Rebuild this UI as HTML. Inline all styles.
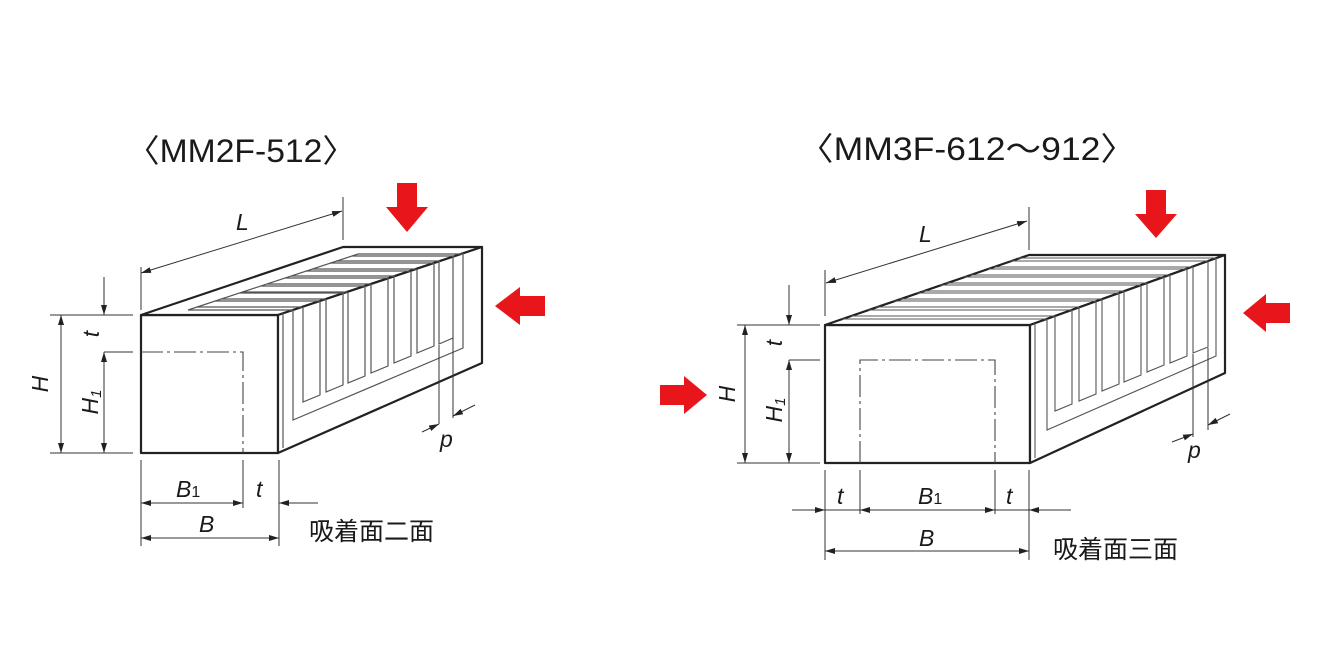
<!DOCTYPE html>
<html><head><meta charset="utf-8"><style>
html,body{margin:0;padding:0;background:#fff}
svg{display:block}
text{font-family:"Liberation Sans","Noto Sans CJK JP",sans-serif;fill:#1a1a1a}
.i{font-style:italic;font-size:23px}
</style></head><body>
<svg width="1320" height="660" viewBox="0 0 1320 660" xmlns="http://www.w3.org/2000/svg">
<defs>
<marker id="a" viewBox="0 0 10 6" refX="10" refY="3" markerWidth="10" markerHeight="6" orient="auto-start-reverse" markerUnits="userSpaceOnUse"><path d="M0,0 L10,3 L0,6 z" fill="#222"/></marker>
</defs>

<text x="126" y="162" font-size="32" textLength="230" lengthAdjust="spacingAndGlyphs">〈MM2F-512〉</text>
<text x="798" y="160" font-size="32" textLength="338" lengthAdjust="spacingAndGlyphs">〈MM3F-612～912〉</text>

<!-- LEFT BLOCK -->
<g fill="none" stroke="#222" stroke-width="2.2" stroke-linejoin="round">
  <polygon points="141,315 278,315 278,453 141,453" fill="#fff"/>
  <polygon points="141,315 343,247 482,247 278,315" fill="#fff"/>
  <polygon points="278,315 482,247 482,363 278,453" fill="#fff"/>
</g>
<g fill="none" stroke="#555" stroke-width="1.2">
  <polyline points="293,310 188,310 358,254 463,254"/>
  <polyline points="293,310 293,420 463,348 463,253"/>
  <line x1="197" y1="307" x2="302" y2="307"/><line x1="215" y1="301" x2="320" y2="301"/>
  <line x1="221" y1="299" x2="326" y2="299"/><line x1="240" y1="293" x2="344" y2="293"/>
  <line x1="243" y1="292" x2="347" y2="292"/><line x1="261" y1="286" x2="365" y2="286"/>
  <line x1="267" y1="284" x2="371" y2="284"/><line x1="285" y1="278" x2="389" y2="278"/>
  <line x1="291" y1="276" x2="395" y2="276"/><line x1="306" y1="271" x2="410" y2="271"/>
  <line x1="312" y1="269" x2="416" y2="269"/><line x1="330" y1="263" x2="434" y2="263"/>
  <line x1="336" y1="261" x2="440" y2="261"/><line x1="352" y1="256" x2="455" y2="256"/>
  <polyline points="303,307 303,402 320,395 320,301"/>
  <polyline points="326,299 326,392 343,385 343,293"/>
  <polyline points="348,292 348,383 365,376 365,286"/>
  <polyline points="371,284 371,373 388,366 388,278"/>
  <polyline points="394,276 394,363 411,356 411,271"/>
  <polyline points="417,269 417,353 434,346 434,263"/>
  <polyline points="439,261 439,344 453,338 453,256"/>
  <line x1="283" y1="313" x2="283" y2="448"/>
</g>
<polyline points="141,352 243,352 243,453" fill="none" stroke="#444" stroke-width="1.1" stroke-dasharray="22,4,3,4"/>
<g stroke="#333" stroke-width="1" fill="none">
  <line x1="141" y1="267" x2="141" y2="310"/><line x1="343" y1="197" x2="343" y2="240"/>
  <line x1="141" y1="273" x2="342" y2="211" marker-start="url(#a)" marker-end="url(#a)"/>
  <line x1="50" y1="315" x2="133" y2="315"/><line x1="50" y1="453" x2="133" y2="453"/>
  <line x1="61" y1="315" x2="61" y2="453" marker-start="url(#a)" marker-end="url(#a)"/>
  <line x1="104" y1="277" x2="104" y2="315" marker-end="url(#a)"/>
  <line x1="104" y1="352" x2="133" y2="352"/>
  <line x1="104" y1="352" x2="104" y2="453" marker-start="url(#a)" marker-end="url(#a)"/>
  <line x1="141" y1="460" x2="141" y2="546"/><line x1="243" y1="460" x2="243" y2="508"/><line x1="279" y1="460" x2="279" y2="546"/>
  <line x1="141" y1="503" x2="243" y2="503" marker-start="url(#a)" marker-end="url(#a)"/>
  <line x1="318" y1="503" x2="279" y2="503" marker-end="url(#a)"/>
  <line x1="141" y1="538" x2="279" y2="538" marker-start="url(#a)" marker-end="url(#a)"/>
  <line x1="439" y1="345" x2="439" y2="424"/><line x1="453" y1="338" x2="453" y2="418"/>
  <line x1="422" y1="432" x2="439" y2="424" marker-end="url(#a)"/>
  <line x1="475" y1="405" x2="453" y2="416" marker-end="url(#a)"/>
</g>
<text class="i" x="236" y="230">L</text>
<text class="i" transform="translate(48,384) rotate(-90)" text-anchor="middle">H</text>
<text class="i" transform="translate(99,334) rotate(-90)" text-anchor="middle">t</text>
<text class="i" transform="translate(98,402) rotate(-90)" text-anchor="middle">H<tspan font-size="15" dy="3">1</tspan></text>
<text class="i" x="176" y="497">B<tspan font-size="16" font-style="normal">1</tspan></text>
<text class="i" x="256" y="497">t</text>
<text class="i" x="199" y="532">B</text>
<text class="i" x="440" y="447">p</text>
<text x="309" y="540" font-size="25">吸着面二面</text>

<polygon points="397,183 417,183 417,207 428,207 407,232 386,207 397,207" fill="#e8161b"/>
<polygon points="545,296 545,316 520,316 520,325 495,306 520,287 520,296" fill="#e8161b"/>

<!-- RIGHT BLOCK -->
<g fill="none" stroke="#222" stroke-width="2.2" stroke-linejoin="round">
  <polygon points="825,325 1030,325 1030,463 825,463" fill="#fff"/>
  <polygon points="825,325 1029,255 1225,255 1030,325" fill="#fff"/>
  <polygon points="1030,325 1225,255 1225,373 1030,463" fill="#fff"/>
</g>
<g fill="none" stroke="#555" stroke-width="1.1">
  <line x1="842" y1="319" x2="1047" y2="319"/>
  <line x1="851" y1="316" x2="1055" y2="316"/><line x1="868" y1="310" x2="1072" y2="310"/>
  <line x1="876" y1="307" x2="1079" y2="307"/><line x1="894" y1="301" x2="1096" y2="301"/>
  <line x1="900" y1="299" x2="1102" y2="299"/><line x1="917" y1="293" x2="1119" y2="293"/>
  <line x1="922" y1="291" x2="1124" y2="291"/><line x1="940" y1="285" x2="1141" y2="285"/>
  <line x1="946" y1="283" x2="1147" y2="283"/><line x1="964" y1="277" x2="1164" y2="277"/>
  <line x1="970" y1="275" x2="1170" y2="275"/><line x1="988" y1="269" x2="1187" y2="269"/>
  <line x1="994" y1="267" x2="1193" y2="267"/><line x1="1010" y1="261" x2="1208" y2="261"/>
  <line x1="1018" y1="258" x2="1216" y2="258"/>
  <polyline points="1047,319 1047,430 1216,356 1216,258"/>
  <polyline points="1055,316 1055,411 1072,404 1072,310"/>
  <polyline points="1079,307 1079,401 1096,394 1096,301"/>
  <polyline points="1102,299 1102,391 1119,384 1119,293"/>
  <polyline points="1124,291 1124,382 1141,375 1141,285"/>
  <polyline points="1147,283 1147,372 1164,365 1164,277"/>
  <polyline points="1170,275 1170,363 1187,356 1187,269"/>
  <polyline points="1193,267 1193,353 1208,347 1208,261"/>
  <line x1="1035" y1="323" x2="1035" y2="458"/>
</g>
<polyline points="860,463 860,360 995,360 995,463" fill="none" stroke="#444" stroke-width="1.1" stroke-dasharray="22,4,3,4"/>
<g stroke="#333" stroke-width="1" fill="none">
  <line x1="825" y1="270" x2="825" y2="316"/><line x1="1029" y1="207" x2="1029" y2="250"/>
  <line x1="826" y1="283" x2="1027" y2="221" marker-start="url(#a)" marker-end="url(#a)"/>
  <line x1="737" y1="325" x2="820" y2="325"/><line x1="737" y1="463" x2="820" y2="463"/>
  <line x1="745" y1="325" x2="745" y2="463" marker-start="url(#a)" marker-end="url(#a)"/>
  <line x1="789" y1="285" x2="789" y2="325" marker-end="url(#a)"/>
  <line x1="789" y1="360" x2="820" y2="360"/>
  <line x1="789" y1="360" x2="789" y2="463" marker-start="url(#a)" marker-end="url(#a)"/>
  <line x1="825" y1="470" x2="825" y2="560"/><line x1="860" y1="470" x2="860" y2="514"/>
  <line x1="995" y1="470" x2="995" y2="514"/><line x1="1029" y1="470" x2="1029" y2="560"/>
  <line x1="792" y1="510" x2="825" y2="510" marker-end="url(#a)"/>
  <line x1="825" y1="510" x2="860" y2="510"/>
  <line x1="860" y1="510" x2="995" y2="510" marker-start="url(#a)" marker-end="url(#a)"/>
  <line x1="995" y1="510" x2="1029" y2="510"/>
  <line x1="1071" y1="510" x2="1029" y2="510" marker-end="url(#a)"/>
  <line x1="825" y1="551" x2="1029" y2="551" marker-start="url(#a)" marker-end="url(#a)"/>
  <line x1="1193" y1="354" x2="1193" y2="437"/><line x1="1208" y1="348" x2="1208" y2="430"/>
  <line x1="1172" y1="442" x2="1193" y2="434" marker-end="url(#a)"/>
  <line x1="1230" y1="414" x2="1208" y2="425" marker-end="url(#a)"/>
</g>
<text class="i" x="919" y="242">L</text>
<text class="i" transform="translate(735,394) rotate(-90)" text-anchor="middle">H</text>
<text class="i" transform="translate(782,343) rotate(-90)" text-anchor="middle">t</text>
<text class="i" transform="translate(782,410) rotate(-90)" text-anchor="middle">H<tspan font-size="15" dy="3">1</tspan></text>
<text class="i" x="837" y="504">t</text>
<text class="i" x="918" y="504">B<tspan font-size="16" font-style="normal">1</tspan></text>
<text class="i" x="1006" y="504">t</text>
<text class="i" x="919" y="546">B</text>
<text class="i" x="1188" y="458">p</text>
<text x="1053" y="558" font-size="25">吸着面三面</text>

<polygon points="1146,190 1166,190 1166,214 1177,214 1156,238 1135,214 1146,214" fill="#e8161b"/>
<polygon points="1290,303 1290,323 1266,323 1266,332 1243,313 1266,294 1266,303" fill="#e8161b"/>
<polygon points="660,385 660,405 684,405 684,414 707,395 684,376 684,385" fill="#e8161b"/>
</svg>
</body></html>
